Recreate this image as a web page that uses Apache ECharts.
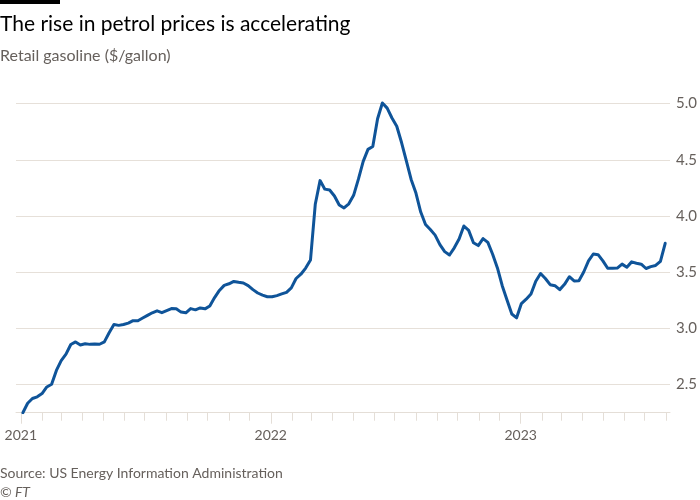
<!DOCTYPE html>
<html>
<head>
<meta charset="utf-8">
<script src="https://cdn.jsdelivr.net/npm/echarts@6/dist/echarts.min.js"></script>
<style>
html,body{margin:0;padding:0;background:#fff;}
#chart{width:700px;height:500px;}
</style>
</head>
<body>
<div id="chart"></div>
<script>
// Weekly dates (EIA, Mondays)
const dates = [
'2021-01-04','2021-01-11','2021-01-18','2021-01-25','2021-02-01','2021-02-08','2021-02-15','2021-02-22',
'2021-03-01','2021-03-08','2021-03-15','2021-03-22','2021-03-29','2021-04-05','2021-04-12','2021-04-19','2021-04-26',
'2021-05-03','2021-05-10','2021-05-17','2021-05-24','2021-05-31','2021-06-07','2021-06-14','2021-06-21','2021-06-28',
'2021-07-05','2021-07-12','2021-07-19','2021-07-26','2021-08-02','2021-08-09','2021-08-16','2021-08-23','2021-08-30',
'2021-09-06','2021-09-13','2021-09-20','2021-09-27','2021-10-04','2021-10-11','2021-10-18','2021-10-25',
'2021-11-01','2021-11-08','2021-11-15','2021-11-22','2021-11-29','2021-12-06','2021-12-13','2021-12-20','2021-12-27',
'2022-01-03','2022-01-10','2022-01-17','2022-01-24','2022-01-31','2022-02-07','2022-02-14','2022-02-21','2022-02-28',
'2022-03-07','2022-03-14','2022-03-21','2022-03-28','2022-04-04','2022-04-11','2022-04-18','2022-04-25',
'2022-05-02','2022-05-09','2022-05-16','2022-05-23','2022-05-30','2022-06-06','2022-06-13','2022-06-20','2022-06-27',
'2022-07-04','2022-07-11','2022-07-18','2022-07-25','2022-08-01','2022-08-08','2022-08-15','2022-08-22','2022-08-29',
'2022-09-05','2022-09-12','2022-09-19','2022-09-26','2022-10-03','2022-10-10','2022-10-17','2022-10-24','2022-10-31',
'2022-11-07','2022-11-14','2022-11-21','2022-11-28','2022-12-05','2022-12-12','2022-12-19','2022-12-26',
'2023-01-02','2023-01-09','2023-01-16','2023-01-23','2023-01-30','2023-02-06','2023-02-13','2023-02-20','2023-02-27',
'2023-03-06','2023-03-13','2023-03-20','2023-03-27','2023-04-03','2023-04-10','2023-04-17','2023-04-24',
'2023-05-01','2023-05-08','2023-05-15','2023-05-22','2023-05-29','2023-06-05','2023-06-12','2023-06-19','2023-06-26',
'2023-07-03','2023-07-10','2023-07-17','2023-07-24','2023-07-31'
];
// Retail gasoline, $/gallon
const prices = [
2.250,2.334,2.376,2.391,2.420,2.479,2.503,2.626,
2.713,2.771,2.857,2.880,2.853,2.863,2.858,2.862,2.859,
2.880,2.961,3.035,3.027,3.035,3.047,3.069,3.068,3.092,
3.116,3.139,3.156,3.140,3.158,3.176,3.175,3.145,3.139,
3.176,3.165,3.182,3.174,3.200,3.274,3.338,3.383,
3.397,3.418,3.410,3.404,3.381,3.345,3.315,3.296,3.282,
3.281,3.292,3.307,3.321,3.361,3.444,3.482,3.537,3.608,
4.104,4.315,4.239,4.231,4.178,4.098,4.072,4.109,
4.184,4.328,4.486,4.593,4.619,4.865,5.006,4.960,4.872,
4.799,4.654,4.490,4.325,4.204,4.035,3.925,3.880,3.830,
3.745,3.683,3.653,3.717,3.795,3.911,3.872,3.762,3.737,
3.799,3.765,3.660,3.538,3.380,3.253,3.128,3.094,
3.221,3.260,3.306,3.420,3.488,3.444,3.389,3.380,3.345,
3.392,3.460,3.422,3.424,3.502,3.600,3.662,3.656,
3.601,3.535,3.535,3.537,3.572,3.545,3.592,3.580,3.571,
3.533,3.550,3.560,3.596,3.757
];
const axisStart = '2020-12-25';
const axisEnd = '2023-08-07';
const yMin = 2.25, yMax = 5.05;

const titleText = 'The rise in petrol prices is accelerating';
const subtitleText = 'Retail gasoline ($/gallon)';
const sourceText = 'Source: US Energy Information Administration';
const creditText = '\u00A9 FT';

// Daily category axis so monthly ticks land on real calendar dates
const days = [];
for (let t = Date.parse(axisStart + 'T00:00:00Z'); t <= Date.parse(axisEnd + 'T00:00:00Z'); t += 86400000) {
  days.push(new Date(t).toISOString().slice(0, 10));
}
const isMonthStart = (i, v) => v.slice(8) === '01';
const isYearStart = (i, v) => v.slice(5) === '01-01';

const FONT = 'Lato, "Noto Sans", sans-serif';
const GREY = '#66605c';
const LINE = '#e6e0d9';

const chart = echarts.init(document.getElementById('chart'), null, {renderer: 'canvas'});
chart.setOption({
  animation: false,
  backgroundColor: '#ffffff',
  textStyle: {fontFamily: FONT},
  grid: {left: 16, right: 30, top: 98, bottom: 87.3, containLabel: false, outerBoundsMode: 'none'},
  xAxis: [{
    type: 'category',
    data: days,
    boundaryGap: false,
    axisLine: {show: true, lineStyle: {color: '#e4ded7', width: 1}},
    axisTick: {show: true, interval: isMonthStart, length: 8, lineStyle: {color: '#e4ded7', width: 1}},
    axisLabel: {show: true, interval: isYearStart, formatter: v => v.slice(0, 4), margin: 16, color: GREY, fontSize: 14, fontFamily: FONT},
    splitLine: {show: false}
  }, {
    type: 'category',
    data: days,
    boundaryGap: false,
    position: 'bottom',
    axisLine: {show: false},
    axisTick: {show: true, interval: isYearStart, length: 11, lineStyle: {color: '#e4ded7', width: 1}},
    axisLabel: {show: false},
    splitLine: {show: false}
  }],
  yAxis: {
    type: 'value',
    position: 'right',
    min: yMin,
    max: yMax,
    splitNumber: 5,
    axisLine: {show: false},
    axisTick: {show: false},
    splitLine: {show: true, showMinLine: false, showMaxLine: false, lineStyle: {color: LINE, width: 1}},
    axisLabel: {showMinLabel: false, showMaxLabel: false, margin: 6, color: GREY, fontSize: 15, fontFamily: FONT,
      formatter: v => v.toFixed(1)}
  },
  series: [{
    type: 'line',
    xAxisIndex: 0,
    data: dates.map((d, i) => [d, prices[i]]),
    showSymbol: false,
    symbol: 'none',
    lineStyle: {color: '#0f5499', width: 3, join: 'round', cap: 'round'},
    emphasis: {disabled: true}
  }],
  graphic: [
    {type: 'rect', left: 0, top: 0, shape: {width: 60, height: 4}, style: {fill: '#000'}},
    {type: 'text', left: 0, top: 14, style: {text: titleText, font: '21px ' + FONT, fill: '#000'}},
    {type: 'text', left: 0, top: 48, style: {text: subtitleText, font: '16px ' + FONT, fill: GREY}},
    {type: 'text', left: 0, top: 466, style: {text: sourceText, font: '14px ' + FONT, fill: GREY}},
    {type: 'text', left: 0, top: 485, style: {text: creditText, font: 'italic 14px ' + FONT, fill: GREY}}
  ]
});
</script>
</body>
</html>
